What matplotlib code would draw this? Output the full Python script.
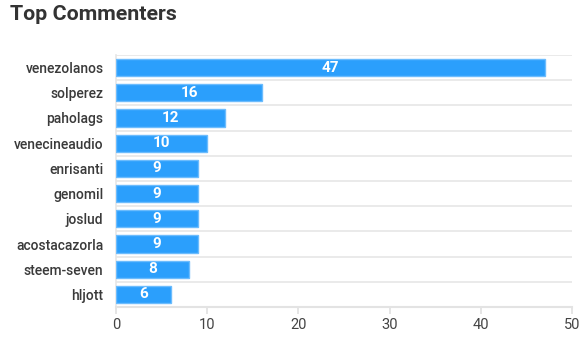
import matplotlib
matplotlib.use("Agg")
import matplotlib.pyplot as plt
import matplotlib.transforms as mtransforms
import numpy as np

names = ["venezolanos", "solperez", "paholags", "venecineaudio", "enrisanti",
         "genomil", "joslud", "acostacazorla", "steem-seven", "hljott"]
counts = [47, 16, 12, 10, 9, 9, 9, 9, 8, 6]
xticks = [0, 10, 20, 30, 40, 50]

plt.rcParams['font.family'] = ['Roboto', 'DejaVu Sans']

fig = plt.figure(figsize=(5.82, 3.5), dpi=100)
ax = fig.add_axes([116/582, 1-307/350, (572-116)/582, (307-55)/350])

y = np.arange(len(names))
ax.barh(y, counts, height=0.68, color="#2b9ffc", edgecolor="#6cbcfd", linewidth=1, zorder=3)
for yi, c in zip(y, counts):
    ax.text(c/2, yi, str(c), ha="center", va="center", color="white",
            fontsize=11, fontweight="bold", zorder=4)

ax.set_xlim(0, 50)
ax.set_ylim(len(names)-0.5, -0.5)
ax.set_xticks(xticks)
ax.set_xticklabels([str(t) for t in xticks], fontsize=10.5, color="#444444")
ax.set_yticks(y)
ax.set_yticklabels(names, fontsize=10, color="#3a3a3a", fontweight="medium")
off = mtransforms.ScaledTranslation(0, 2/100, fig.dpi_scale_trans)
for lab in ax.get_yticklabels():
    lab.set_transform(lab.get_transform() + off)
ax.set_yticks(np.arange(-0.5, len(names)), minor=True)
ax.grid(True, axis="y", which="minor", color="#e6e6e6", linewidth=1.2, zorder=0)
ax.tick_params(axis="y", which="both", length=0, pad=9)
ax.tick_params(axis="x", length=5, color="#e0e0e0", width=1.2, pad=3)
for s in ["top", "right"]:
    ax.spines[s].set_visible(False)
ax.spines["left"].set_color("#e6e6e6")
ax.spines["bottom"].set_color("#e3e3e3")
ax.spines["left"].set_linewidth(1.2)
ax.spines["bottom"].set_linewidth(1.5)

fig.text(10/582, 1-15/350, "Top Commenters", fontsize=15.4, fontweight="bold",
         color="#333333", ha="left", va="center")

fig.savefig("out.png", dpi=100)
